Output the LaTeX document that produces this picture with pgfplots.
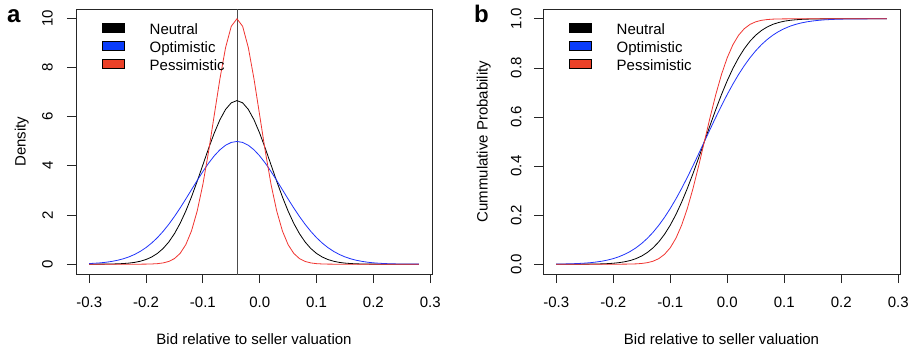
\documentclass[border=0pt]{standalone}
\usepackage{fontspec}
\setmainfont{Liberation Sans}
\usepackage{pgfplots}
\pgfplotsset{compat=1.18}
\usepackage{pgfplotstable}
\definecolor{lred}{RGB}{240,52,48}
\definecolor{lblue}{RGB}{30,50,250}
\definecolor{sred}{RGB}{235,65,40}
\definecolor{sblue}{RGB}{10,60,250}

\pgfplotstableread{
x dn do dp cn co cp
-0.30 0.001 0.025 0 0.0000 0.0006 0
-0.29 0.001 0.038 0 0.0000 0.0009 0
-0.28 0.002 0.055 0 0.0000 0.0013 0
-0.27 0.004 0.080 0 0.0001 0.0020 0
-0.26 0.008 0.114 0 0.0001 0.0030 0
-0.25 0.015 0.159 0 0.0002 0.0043 0
-0.24 0.026 0.219 0 0.0004 0.0062 0
-0.23 0.044 0.297 0 0.0008 0.0088 0
-0.22 0.074 0.397 0.000 0.0013 0.0122 0
-0.21 0.120 0.522 0.001 0.0023 0.0168 0
-0.20 0.190 0.675 0.003 0.0038 0.0227 0.0000
-0.19 0.292 0.860 0.009 0.0062 0.0304 0.0001
-0.18 0.437 1.078 0.022 0.0098 0.0401 0.0002
-0.17 0.636 1.332 0.051 0.0151 0.0521 0.0006
-0.16 0.900 1.619 0.111 0.0227 0.0668 0.0013
-0.15 1.239 1.938 0.227 0.0334 0.0846 0.0030
-0.14 1.658 2.283 0.438 0.0478 0.1056 0.0062
-0.13 2.159 2.649 0.794 0.0668 0.1303 0.0122
-0.12 2.734 3.025 1.350 0.0912 0.1587 0.0227
-0.11 3.367 3.401 2.157 0.1217 0.1908 0.0401
-0.10 4.033 3.764 3.238 0.1587 0.2266 0.0668
-0.09 4.699 4.102 4.566 0.2023 0.2660 0.1056
-0.08 5.324 4.401 6.049 0.2525 0.3085 0.1587
-0.07 5.868 4.648 7.528 0.3085 0.3538 0.2266
-0.06 6.290 4.833 8.802 0.3694 0.4013 0.3085
-0.05 6.557 4.948 9.667 0.4338 0.4503 0.4013
-0.04 6.649 4.987 9.974 0.5000 0.5000 0.5000
-0.03 6.557 4.948 9.667 0.5662 0.5497 0.5987
-0.02 6.290 4.833 8.802 0.6306 0.5987 0.6915
-0.01 5.868 4.648 7.528 0.6915 0.6462 0.7734
0.00 5.324 4.401 6.049 0.7475 0.6915 0.8413
0.01 4.699 4.102 4.566 0.7977 0.7340 0.8944
0.02 4.033 3.764 3.238 0.8413 0.7734 0.9332
0.03 3.367 3.401 2.157 0.8783 0.8092 0.9599
0.04 2.734 3.025 1.350 0.9088 0.8413 0.9773
0.05 2.159 2.649 0.794 0.9332 0.8697 0.9878
0.06 1.658 2.283 0.438 0.9522 0.8944 0.9938
0.07 1.239 1.938 0.227 0.9666 0.9154 0.9970
0.08 0.900 1.619 0.111 0.9773 0.9332 0.9987
0.09 0.636 1.332 0.051 0.9849 0.9479 0.9994
0.10 0.437 1.078 0.022 0.9902 0.9599 0.9998
0.11 0.292 0.860 0.009 0.9938 0.9696 0.9999
0.12 0.190 0.675 0.003 0.9962 0.9773 1.0000
0.13 0.120 0.522 0.001 0.9977 0.9832 1
0.14 0.074 0.397 0.000 0.9987 0.9878 1
0.15 0.044 0.297 0 0.9992 0.9912 1
0.16 0.026 0.219 0 0.9996 0.9938 1
0.17 0.015 0.159 0 0.9998 0.9957 1
0.18 0.008 0.114 0 0.9999 0.9970 1
0.19 0.004 0.080 0 0.9999 0.9980 1
0.20 0.002 0.055 0 1.0000 0.9987 1
0.21 0.001 0.038 0 1 0.9991 1
0.22 0.001 0.025 0 1 0.9994 1
0.23 0.000 0.017 0 1 0.9996 1
0.24 0 0.011 0 1 0.9998 1
0.25 0 0.007 0 1 0.9999 1
0.26 0 0.004 0 1 0.9999 1
0.27 0 0.003 0 1 0.9999 1
0.28 0 0.002 0 1 1.0000 1
}\data

\pgfplotsset{
  rstyle/.style={
    scale only axis,
    width=356pt, height=265pt,
    anchor=south west,
    xmin=-0.3232, xmax=0.3032,
    xtick={-0.3,-0.2,...,0.31},
    axis line style={line width=0.75pt, black!85},
    tick style={line width=0.75pt, black!85},
    tick align=outside,
    major tick length=9pt,
    xtick pos=bottom, ytick pos=left,
    /pgf/number format/assume math mode=true,
    tick label style={font=\fontsize{15}{18}\selectfont, inner sep=0pt},
    xticklabel style={/pgf/number format/fixed, /pgf/number format/fixed zerofill, /pgf/number format/precision=1, anchor=north},
    xticklabel shift=13.7pt,
    every axis x label/.style={at={(axis description cs:0.5,0)}, anchor=base, yshift=-70pt, font=\fontsize{15}{18}\selectfont},
    legend style={draw=none, fill=none, at={(0,1)}, anchor=north west, xshift=26pt, yshift=-14pt,
      font=\fontsize{15}{18}\selectfont, row sep=0pt, inner sep=0pt,
      nodes={inner sep=0pt, text height=11pt, text depth=7pt}},
    legend cell align=left,
    clip=true,
  }
}

\begin{document}
\begin{tikzpicture}

\begin{axis}[rstyle, at={(76pt,75pt)},
  ymin=-0.399, ymax=10.37,
  ytick={0,2,...,10},
  yticklabel style={rotate=90, anchor=south},
  yticklabel shift=14pt,
  every axis y label/.style={at={(axis description cs:0,0.5)}, xshift=-50.3pt, rotate=90, anchor=base, font=\fontsize{15}{18}\selectfont},
  xlabel={Bid relative to seller valuation},
  ylabel={Density},
]
\addlegendimage{legend image code/.code={\draw[fill=black, draw=black, line width=0.5pt] (0pt,-0.5pt) rectangle (22pt,8.5pt);}}
\addlegendentry{\hspace{25pt}Neutral}
\addlegendimage{legend image code/.code={\draw[fill=sblue, draw=black, line width=0.5pt] (0pt,-0.5pt) rectangle (22pt,8.5pt);}}
\addlegendentry{\hspace{25pt}Optimistic}
\addlegendimage{legend image code/.code={\draw[fill=sred, draw=black, line width=0.5pt] (0pt,-0.5pt) rectangle (22pt,8.5pt);}}
\addlegendentry{\hspace{25pt}Pessimistic}
\addplot[black!70, line width=0.9pt, forget plot] coordinates {(-0.04,-1) (-0.04,12)};
\addplot[black, line width=0.8pt, forget plot] table[x=x, y=dn] {\data};
\addplot[lblue, line width=0.8pt, forget plot] table[x=x, y=do] {\data};
\addplot[lred, line width=0.8pt, forget plot] table[x=x, y=dp] {\data};
\end{axis}

\begin{axis}[rstyle, at={(543pt,75pt)}, width=357pt,
  ymin=-0.04, ymax=1.04,
  ytick={0,0.2,...,1.01},
  yticklabel style={rotate=90, anchor=south, /pgf/number format/fixed, /pgf/number format/fixed zerofill, /pgf/number format/precision=1},
  yticklabel shift=12.3pt,
  every axis y label/.style={at={(axis description cs:0,0.5)}, xshift=-55.3pt, rotate=90, anchor=base, font=\fontsize{15}{18}\selectfont},
  xlabel={Bid relative to seller valuation},
  ylabel={Cummulative Probability},
]
\addlegendimage{legend image code/.code={\draw[fill=black, draw=black, line width=0.5pt] (0pt,-0.5pt) rectangle (22pt,8.5pt);}}
\addlegendentry{\hspace{25pt}Neutral}
\addlegendimage{legend image code/.code={\draw[fill=sblue, draw=black, line width=0.5pt] (0pt,-0.5pt) rectangle (22pt,8.5pt);}}
\addlegendentry{\hspace{25pt}Optimistic}
\addlegendimage{legend image code/.code={\draw[fill=sred, draw=black, line width=0.5pt] (0pt,-0.5pt) rectangle (22pt,8.5pt);}}
\addlegendentry{\hspace{25pt}Pessimistic}
\addplot[black, line width=0.8pt, forget plot] table[x=x, y=cn] {\data};
\addplot[lblue, line width=0.8pt, forget plot] table[x=x, y=co] {\data};
\addplot[lred, line width=0.8pt, forget plot] table[x=x, y=cp] {\data};
\end{axis}

\node[font=\bfseries\fontsize{24}{24}\selectfont, anchor=base west, inner sep=0pt] at (7pt,326pt) {a};
\node[font=\bfseries\fontsize{24}{24}\selectfont, anchor=base west, inner sep=0pt] at (474pt,326pt) {b};
\pgfresetboundingbox
\path[use as bounding box] (0pt,0pt) rectangle (913pt,349pt);
\end{tikzpicture}
\end{document}
